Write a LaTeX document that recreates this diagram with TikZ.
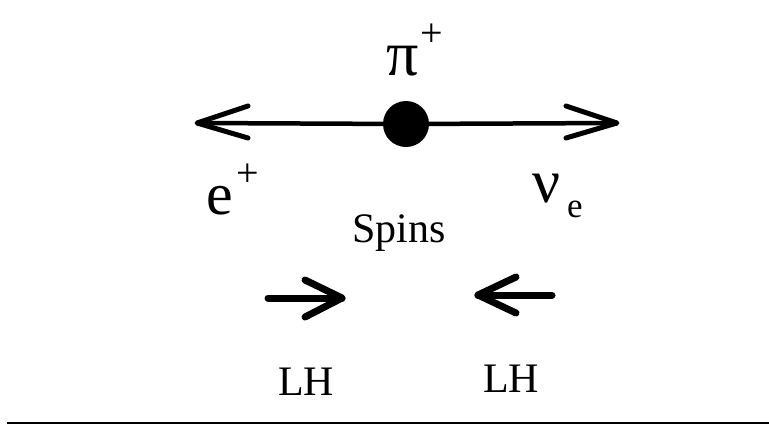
\documentclass[tikz,border=0pt]{standalone}
\usepackage{fontspec}
\setmainfont{Liberation Serif}
\begin{document}
\begin{tikzpicture}[x=1bp,y=-1bp,
  lbl/.style={inner sep=0pt,anchor=base},
  shaft/.style={line width=4.5bp},
  wing/.style={line width=5bp,line cap=round,line join=round},
  spin/.style={line width=7bp,line cap=round,line join=round}]
\useasboundingbox (0,0) rectangle (769,427);
% main line
\coordinate (L) at (197,123);
\coordinate (R) at (617,123);
\node[circle,fill=black,inner sep=0pt,minimum size=46bp] (pi) at (406,124) {};
\draw[shaft] (L) -- (pi);
\draw[shaft] (pi) -- (R);
\draw[wing] (248,106) -- (L) -- (248,138);
\draw[wing] (566,106) -- (R) -- (566,138);
% labels
\node[lbl,font=\fontsize{64bp}{66bp}\selectfont] (pil) at (403,75) {π};
\node[lbl,font=\fontsize{40bp}{42bp}\selectfont] (pip) at (432,46) {+};
\node[lbl,font=\fontsize{60bp}{62bp}\selectfont] (el) at (220,214) {e};
\node[lbl,font=\fontsize{40bp}{42bp}\selectfont] (ep) at (248,186) {+};
\node[lbl,font=\fontsize{62bp}{64bp}\selectfont] (nu) at (547,202) {ν};
\node[lbl,font=\fontsize{35bp}{37bp}\selectfont] (nue) at (575,217) {e};
\node[lbl,font=\fontsize{42bp}{44bp}\selectfont] (spins) at (399,242) {Spins};
% spin arrows
\coordinate (s1a) at (268,298);
\coordinate (s1b) at (342,298);
\draw[spin] (s1a) -- (s1b);
\draw[spin] (305,280) -- (s1b) -- (305,317);
\coordinate (s2a) at (552,295);
\coordinate (s2b) at (478,295);
\draw[spin] (s2a) -- (s2b);
\draw[spin] (516,277) -- (s2b) -- (516,313);
\node[lbl,font=\fontsize{42bp}{44bp}\selectfont] (lh1) at (306,395) {LH};
\node[lbl,font=\fontsize{42bp}{44bp}\selectfont] (lh2) at (511,392) {LH};
% bottom rule
\coordinate (b1) at (7,423);
\coordinate (b2) at (769,423);
\draw[line width=2bp] (b1) -- (b2);
\end{tikzpicture}
\end{document}
